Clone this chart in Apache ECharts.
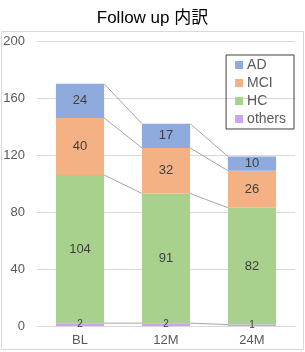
<!DOCTYPE html>
<html>
<head>
<meta charset="utf-8">
<script src="https://cdn.jsdelivr.net/npm/echarts@6/dist/echarts.min.js"></script>
<style>
  html, body { margin: 0; padding: 0; background: #fff; }
  #chart { width: 305px; height: 352px; }
</style>
</head>
<body>
<div id="chart"></div>
<script>
// データ
const categories = ['BL', '12M', '24M'];
const othersData = [2, 2, 1];
const hcData = [104, 91, 82];
const mciData = [40, 32, 26];
const adData = [24, 17, 10];
const yTicks = [0, 40, 80, 120, 160, 200];

const FONT = '"Liberation Sans", "Noto Sans CJK JP", sans-serif';
const BAR_RATIO = 0.56;

// 各系列の累積値（つなぎ線用）
const stackOrder = [othersData, hcData, mciData, adData];
const cumTops = [];
let running = categories.map(() => 0);
stackOrder.forEach(arr => {
  running = running.map((v, i) => v + arr[i]);
  cumTops.push(running.slice());
});

const connectorData = [];
for (let i = 0; i < categories.length - 1; i++) {
  cumTops.forEach(tops => {
    connectorData.push([i, tops[i], tops[i + 1]]);
  });
}

const chart = echarts.init(document.getElementById('chart'));

function barSeries(name, data, color, labelSize) {
  return {
    name: name,
    type: 'bar',
    stack: 'total',
    data: data,
    barWidth: (BAR_RATIO * 100) + '%',
    itemStyle: { color: color },
    label: {
      show: true,
      position: 'inside',
      color: '#404040',
      fontSize: labelSize,
      fontFamily: FONT
    },
    z: 3
  };
}

const option = {
  animation: false,
  title: {
    text: 'Follow up 内訳',
    left: 'center',
    top: 5,
    textStyle: {
      fontSize: 17,
      fontWeight: 'normal',
      color: '#000',
      fontFamily: FONT
    }
  },
  graphic: [{
    type: 'rect',
    shape: { x: 1.5, y: 31.5, width: 302, height: 318 },
    style: { fill: 'none', stroke: '#d9d9d9', lineWidth: 1 },
    silent: true,
    z: -1
  }],
  legend: {
    orient: 'vertical',
    right: 11,
    top: 55,
    data: ['AD', 'MCI', 'HC', 'others'],
    itemWidth: 8,
    itemHeight: 8,
    itemGap: 4,
    padding: [3, 8, 3, 9],
    borderColor: '#404040',
    borderWidth: 1,
    icon: 'rect',
    textStyle: {
      fontSize: 14,
      color: '#595959',
      fontFamily: FONT,
      padding: [0, 0, 0, -1]
    }
  },
  grid: {
    left: 37,
    right: 10,
    top: 41,
    bottom: 26
  },
  xAxis: {
    type: 'category',
    data: categories,
    axisTick: { show: false },
    axisLine: { lineStyle: { color: '#d9d9d9' } },
    axisLabel: {
      color: '#595959',
      fontSize: 13,
      margin: 8,
      fontFamily: FONT
    }
  },
  yAxis: {
    type: 'value',
    min: yTicks[0],
    max: yTicks[yTicks.length - 1],
    interval: yTicks[1] - yTicks[0],
    axisLine: { show: false },
    axisTick: { show: false },
    splitLine: { lineStyle: { color: '#d9d9d9' } },
    axisLabel: {
      color: '#595959',
      fontSize: 13,
      margin: 12,
      fontFamily: FONT
    }
  },
  series: [
    barSeries('others', othersData, '#c9a6e8', 10),
    barSeries('HC', hcData, '#a9d18e', 13),
    barSeries('MCI', mciData, '#f4b183', 13),
    barSeries('AD', adData, '#8faadc', 13),
    {
      // 棒同士のつなぎ線
      type: 'custom',
      silent: true,
      data: connectorData,
      encode: { x: 0, y: 1 },
      z: 2,
      renderItem: function (params, api) {
        const i = api.value(0);
        const p1 = api.coord([i, api.value(1)]);
        const p2 = api.coord([i + 1, api.value(2)]);
        const half = api.size([1, 0])[0] * BAR_RATIO / 2;
        return {
          type: 'line',
          shape: { x1: p1[0] + half, y1: p1[1], x2: p2[0] - half, y2: p2[1] },
          style: { stroke: '#a6a6a6', lineWidth: 1 }
        };
      }
    }
  ]
};

chart.setOption(option);
</script>
</body>
</html>
